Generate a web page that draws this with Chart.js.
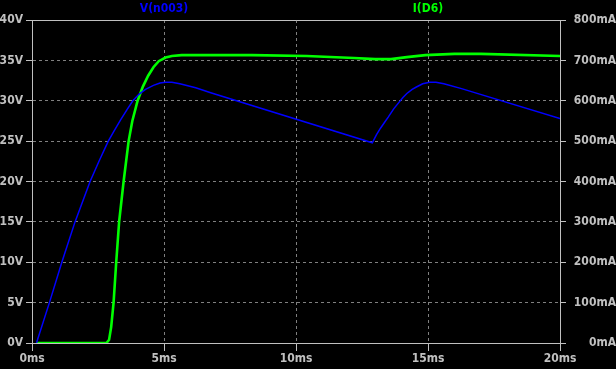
<!DOCTYPE html>
<html>
<head>
<meta charset="utf-8">
<style>
  html, body { margin: 0; padding: 0; background: #000; }
  canvas { display: block; }
</style>
<script src="https://cdn.jsdelivr.net/npm/chart.js@4/dist/chart.umd.min.js"></script>
</head>
<body>
<canvas id="plot" width="616" height="369"></canvas>
<script>
// V(n003) - node voltage, left axis (V)
const voltTime = [0.17, 0.66, 1.13, 1.63, 2.2, 2.55, 2.89, 3.1, 3.35, 3.6, 3.82, 4.05, 4.3, 4.6, 4.85,
                  5.06, 5.3, 5.6, 6.2, 6.77,
                  12.89, 13.05, 13.2, 13.35, 13.5, 13.7, 13.9, 14.05, 14.2, 14.4, 14.56, 14.8,
                  15.06, 15.3, 15.6, 16.27, 20];
const voltValues = [0, 5, 10, 15, 20, 22.6, 25, 26.2, 27.6, 28.9, 30, 30.8, 31.4, 31.9, 32.2,
                    32.3, 32.3, 32.1, 31.6, 31.0,
                    24.8, 25.8, 26.6, 27.3, 28.0, 29.0, 29.8, 30.4, 30.9, 31.4, 31.7, 32.1,
                    32.3, 32.3, 32.1, 31.5, 27.8];

// I(D6) - diode current, right axis (mA)
const currTime = [0.17, 2.82, 2.92, 3.0, 3.09, 3.19, 3.3, 3.47, 3.66, 3.8, 4.0, 4.2, 4.4, 4.6, 4.8,
                  5.06, 5.3, 5.67, 8.33, 10.4, 12.2, 13.0, 13.6, 14.2, 14.9, 16.0, 17.0, 20];
const currValues = [0, 0, 8, 40, 100, 200, 300, 400, 500, 550, 600, 635, 662, 683, 698,
                    707, 711, 713, 713, 711, 706, 703, 703, 708, 713, 716, 716, 711];

const timeTicks = [0, 5, 10, 15, 20];
const voltRange = [0, 40];
const currRange = [0, 800];

const AXIS = '#c0c0c0';
const GRID = '#808080';
const FONT = { family: 'DejaVu Sans Condensed', size: 12, weight: 'bold' };

const toPoints = (xs, ys) => xs.map((x, i) => ({ x, y: ys[i] }));

// solid frame lines at the outer ticks, dashed grid inside
function gridOpts(min, max) {
  const edge = ctx => ctx.tick && (ctx.tick.value === min || ctx.tick.value === max);
  return {
    grid: {
      color: ctx => edge(ctx) ? AXIS : GRID,
      tickColor: AXIS,
      tickLength: 6
    },
    border: {
      color: AXIS,
      dash: ctx => edge(ctx) ? [] : [3, 3]
    }
  };
}

// trace names across the top, like the LTspice viewer
const traceNames = {
  id: 'traceNames',
  afterDraw(chart) {
    const { ctx, chartArea } = chart;
    const sets = chart.data.datasets;
    const w = chartArea.right - chartArea.left;
    ctx.save();
    ctx.font = `bold 12px ${FONT.family}`;
    ctx.textAlign = 'center';
    ctx.textBaseline = 'middle';
    sets.forEach((ds, i) => {
      ctx.fillStyle = ds.borderColor;
      ctx.fillText(ds.label, chartArea.left + w * (2 * i + 1) / (2 * sets.length), 9);
    });
    ctx.restore();
  }
};

const xGrid = gridOpts(0, 20);
const yGrid = gridOpts(voltRange[0], voltRange[1]);
const y1Grid = gridOpts(currRange[0], currRange[1]);

new Chart(document.getElementById('plot'), {
  type: 'line',
  data: {
    datasets: [
      {
        label: 'V(n003)',
        data: toPoints(voltTime, voltValues),
        borderColor: '#0000ff',
        borderWidth: 1.5,
        pointRadius: 0,
        tension: 0,
        yAxisID: 'y'
      },
      {
        label: 'I(D6)',
        data: toPoints(currTime, currValues),
        borderColor: '#00ff00',
        borderWidth: 2.6,
        pointRadius: 0,
        tension: 0,
        yAxisID: 'y1'
      }
    ]
  },
  options: {
    responsive: false,
    animation: false,
    layout: { padding: { top: 20 } },
    plugins: {
      legend: { display: false },
      tooltip: { enabled: false }
    },
    scales: {
      x: {
        type: 'linear',
        min: timeTicks[0],
        max: timeTicks[timeTicks.length - 1],
        afterBuildTicks: s => { s.ticks = timeTicks.map(v => ({ value: v })); },
        afterFit: s => { s.height = 26; },
        ticks: { color: AXIS, font: FONT, padding: 1, maxRotation: 0, callback: v => v + 'ms' },
        grid: { ...xGrid.grid, tickLength: 8 },
        border: xGrid.border
      },
      y: {
        position: 'left',
        min: voltRange[0],
        max: voltRange[1],
        afterFit: s => { s.width = 32; },
        ticks: { stepSize: 5, color: AXIS, font: FONT, padding: 3, callback: v => v + 'V' },
        grid: yGrid.grid,
        border: yGrid.border
      },
      y1: {
        position: 'right',
        min: currRange[0],
        max: currRange[1],
        afterFit: s => { s.width = 56; },
        ticks: { stepSize: 100, color: AXIS, font: FONT, padding: 3, crossAlign: 'far',
                 callback: v => v + 'mA' },
        grid: { ...y1Grid.grid, drawOnChartArea: false },
        border: y1Grid.border
      }
    }
  },
  plugins: [traceNames]
});
</script>
</body>
</html>
